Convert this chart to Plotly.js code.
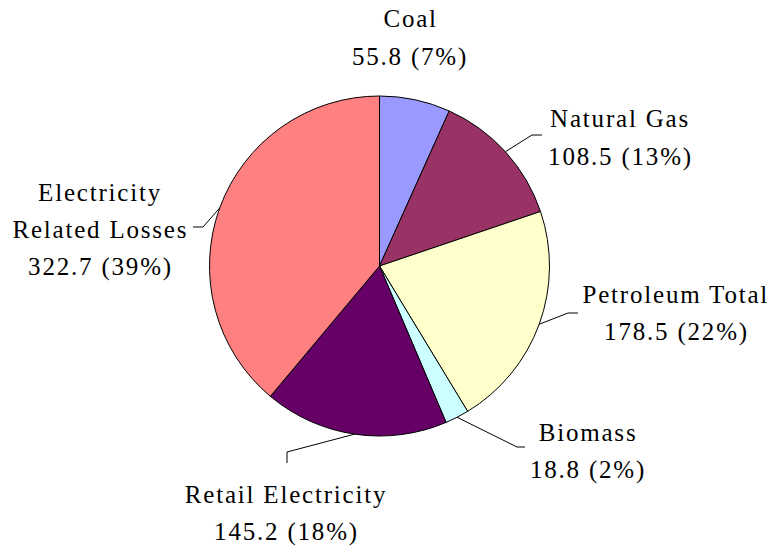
<!DOCTYPE html>
<html>
<head>
<meta charset="utf-8">
<script src="https://cdn.plot.ly/plotly-3.0.1.min.js"></script>
<style>
html,body{margin:0;padding:0;background:#fff;}
#chart{width:779px;height:548px;}
#chart text.annotation-text{letter-spacing:1.8px;}
</style>
</head>
<body>
<div id="chart"></div>
<script>
// ---- data ----
const categories = ['Coal', 'Natural Gas', 'Petroleum Total', 'Biomass', 'Retail Electricity', 'Electricity Related Losses'];
const values = [55.8, 108.5, 178.5, 18.8, 145.2, 322.7];
const nameLines = [['Coal'], ['Natural Gas'], ['Petroleum Total'], ['Biomass'], ['Retail Electricity'], ['Electricity', 'Related Losses']];
const colors = ['#9999FF', '#993366', '#FFFFCC', '#CCFFFF', '#660066', '#FF8080'];

// ---- layout constants (pixels) ----
const W = 779, H = 548;
const CX = 379.5, CY = 266, R = 170;
const FONT = 25, LINE_GAP = 37.5;
// label block: center x, first baseline y ; leader: elbow and end points (null = no leader)
const labelPos = [
  {cx: 410, y: 27, leader: null},
  {cx: 620, y: 127, leader: [[532, 135], [542, 135]]},
  {cx: 676, y: 302, leader: [[568, 313], [578, 313]]},
  {cx: 588, y: 440, leader: [[517, 447], [525, 447]]},
  {cx: 286, y: 502, leader: [[287, 452], [287, 463]]},
  {cx: 101, y: 200, leader: [[203, 227], [193, 227]]}
];

const px = x => x / W;
const py = y => 1 - y / H;

const total = values.reduce((a, b) => a + b, 0);
const annotations = [];
const shapes = [];
let cum = 0;
values.forEach((v, i) => {
  const mid = (cum + v / 2) / total * 2 * Math.PI;
  cum += v;
  const pct = Math.round(v / total * 100);
  const lines = nameLines[i].concat([v.toFixed(1) + ' (' + pct + '%)']);
  const p = labelPos[i];
  lines.forEach((t, k) => {
    annotations.push({
      text: t, xref: 'paper', yref: 'paper',
      x: px(p.cx), y: py(p.y + k * LINE_GAP - 8),
      xanchor: 'center', yanchor: 'middle', showarrow: false,
      font: {family: 'Liberation Serif', size: FONT, color: '#000'}
    });
  });
  if (p.leader) {
    const sx = CX + R * Math.sin(mid), sy = CY - R * Math.cos(mid);
    const pts = [[sx, sy]].concat(p.leader);
    const path = pts.map((q, k) => (k ? 'L' : 'M') + px(q[0]) + ',' + py(q[1])).join(' ');
    shapes.push({type: 'path', xref: 'paper', yref: 'paper', path: path, line: {color: '#000', width: 1}});
  }
});

const trace = {
  type: 'pie',
  labels: categories,
  values: values,
  sort: false,
  direction: 'clockwise',
  rotation: 0,
  textinfo: 'none',
  hoverinfo: 'label+value+percent',
  marker: {colors: colors, line: {color: '#000', width: 1}},
  domain: {x: [px(CX - R), px(CX + R)], y: [py(CY + R), py(CY - R)]}
};

const layout = {
  width: W, height: H,
  margin: {l: 0, r: 0, t: 0, b: 0},
  showlegend: false,
  paper_bgcolor: '#fff',
  font: {family: 'Liberation Serif'},
  annotations: annotations,
  shapes: shapes
};

Plotly.newPlot('chart', [trace], layout, {displayModeBar: false, staticPlot: true});
</script>
</body>
</html>
